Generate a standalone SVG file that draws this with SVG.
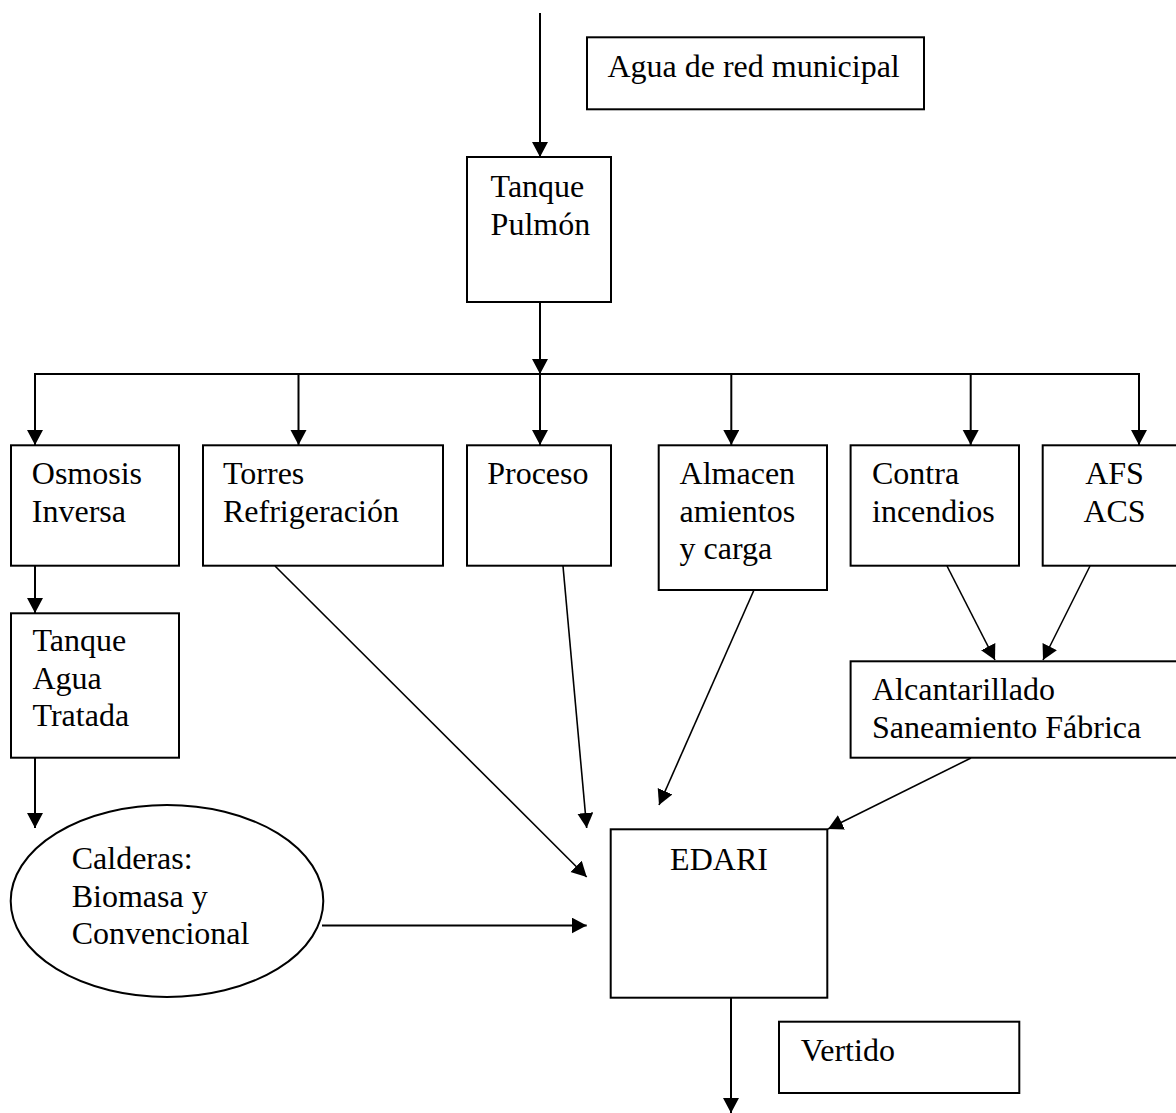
<svg xmlns="http://www.w3.org/2000/svg" width="1176" height="1113" viewBox="0 0 1176 1113">
  <style>
    .box { fill: #fff; stroke: #000; stroke-width: 2; }
    .lbl { font-family: "Liberation Serif", "Times New Roman", serif; font-size: 32px; fill: #000; }
    .mid { text-anchor: middle; }
    .wire { stroke: #000; stroke-width: 2; fill: none; }
    .flow { stroke: #000; stroke-width: 2; fill: none; marker-end: url(#head); }
    .slant { stroke-width: 1.6; }
  </style>
  <defs>
    <marker id="head" markerUnits="userSpaceOnUse" markerWidth="17" markerHeight="17" refX="15" refY="8" orient="auto">
      <path d="M0,0 L15,8 L0,16 Z" fill="#000"/>
    </marker>
  </defs>
  <rect width="1176" height="1113" fill="#fff"/>

  <g id="connectors">
    <line class="flow" x1="540" y1="13" x2="540" y2="157"/>
    <line class="flow" x1="540" y1="302" x2="540" y2="374"/>
    <line class="wire" x1="34" y1="374" x2="1140" y2="374"/>
    <line class="flow" x1="35" y1="374" x2="35" y2="445"/>
    <line class="flow" x1="298.5" y1="374" x2="298.5" y2="445"/>
    <line class="flow" x1="540" y1="374" x2="540" y2="445"/>
    <line class="flow" x1="731.3" y1="374" x2="731.3" y2="445"/>
    <line class="flow" x1="970.7" y1="374" x2="970.7" y2="445"/>
    <line class="flow" x1="1139" y1="374" x2="1139" y2="445"/>
    <line class="flow" x1="35" y1="566" x2="35" y2="613"/>
    <line class="flow" x1="35" y1="758" x2="35" y2="828"/>
    <line class="flow slant" x1="275" y1="566" x2="586.7" y2="877"/>
    <line class="flow slant" x1="563" y1="566" x2="586.7" y2="828"/>
    <line class="flow slant" x1="754" y1="590" x2="659" y2="805"/>
    <line class="flow slant" x1="947" y1="566" x2="995" y2="660"/>
    <line class="flow slant" x1="1090" y1="566" x2="1043" y2="660"/>
    <line class="flow slant" x1="971" y1="758" x2="828" y2="829"/>
    <line class="flow" x1="322" y1="925.5" x2="586.7" y2="925.5"/>
    <line class="flow" x1="731" y1="998" x2="731" y2="1113"/>
  </g>

  <g id="agua-red">
    <rect class="box" x="587" y="37.3" width="337" height="72"/>
    <text class="lbl" x="607.4" y="77.3">Agua de red municipal</text>
  </g>

  <g id="tanque-pulmon">
    <rect class="box" x="467" y="157" width="144" height="145"/>
    <text class="lbl" x="490.6" y="196.7">Tanque</text>
    <text class="lbl" x="490.6" y="235">Pulmón</text>
  </g>

  <g id="osmosis">
    <rect class="box" x="11" y="445.3" width="168" height="120.4"/>
    <text class="lbl" x="31.8" y="484">Osmosis</text>
    <text class="lbl" x="31.8" y="522">Inversa</text>
  </g>

  <g id="torres">
    <rect class="box" x="203" y="445.3" width="240" height="120.4"/>
    <text class="lbl" x="223" y="484">Torres</text>
    <text class="lbl" x="223" y="522">Refrigeración</text>
  </g>

  <g id="proceso">
    <rect class="box" x="467" y="445.3" width="144" height="120.4"/>
    <text class="lbl" x="487.2" y="484">Proceso</text>
  </g>

  <g id="almacenamientos">
    <rect class="box" x="658.7" y="445.3" width="168.3" height="144.7"/>
    <text class="lbl" x="679.6" y="484">Almacen</text>
    <text class="lbl" x="679.6" y="522">amientos</text>
    <text class="lbl" x="679.6" y="559">y carga</text>
  </g>

  <g id="contra-incendios">
    <rect class="box" x="850.6" y="445.3" width="168.4" height="120.4"/>
    <text class="lbl" x="872" y="484">Contra</text>
    <text class="lbl" x="872" y="522">incendios</text>
  </g>

  <g id="afs-acs">
    <rect class="box" x="1042.7" y="445.3" width="143" height="120.4"/>
    <text class="lbl mid" x="1114.5" y="484">AFS</text>
    <text class="lbl mid" x="1114.5" y="522">ACS</text>
  </g>

  <g id="tanque-agua-tratada">
    <rect class="box" x="11" y="613.3" width="168" height="144.4"/>
    <text class="lbl" x="32.5" y="650.7">Tanque</text>
    <text class="lbl" x="32.5" y="688.7">Agua</text>
    <text class="lbl" x="32.5" y="726">Tratada</text>
  </g>

  <g id="alcantarillado">
    <rect class="box" x="850.6" y="661.3" width="340" height="96.4"/>
    <text class="lbl" x="872" y="700">Alcantarillado</text>
    <text class="lbl" x="872" y="738.3">Saneamiento Fábrica</text>
  </g>

  <g id="calderas">
    <ellipse class="box" cx="167" cy="901" rx="156.3" ry="96"/>
    <text class="lbl" x="71.7" y="869">Calderas:</text>
    <text class="lbl" x="71.7" y="907">Biomasa y</text>
    <text class="lbl" x="71.7" y="944">Convencional</text>
  </g>

  <g id="edari">
    <rect class="box" x="610.7" y="829.3" width="216.6" height="168.4"/>
    <text class="lbl mid" x="719" y="870">EDARI</text>
  </g>

  <g id="vertido">
    <rect class="box" x="779" y="1021.7" width="240.3" height="71.3"/>
    <text class="lbl" x="800.7" y="1061">Vertido</text>
  </g>
</svg>
